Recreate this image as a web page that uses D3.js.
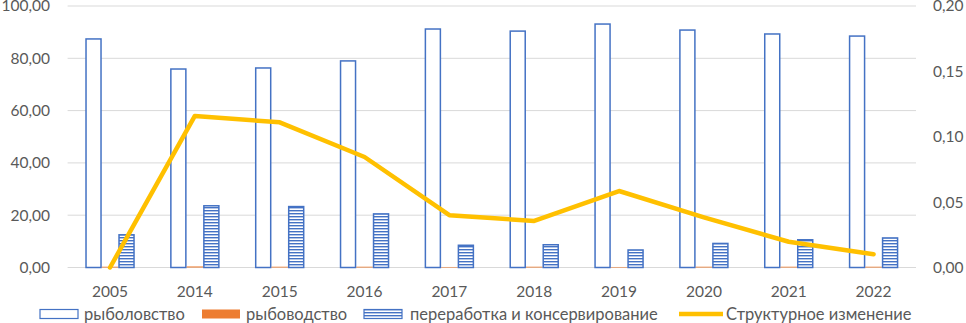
<!DOCTYPE html>
<html>
<head>
<meta charset="utf-8">
<script src="https://cdn.jsdelivr.net/npm/d3@7"></script>
<style>
  body { margin: 0; background: #fff; }
  text { font-family: Lato, "Open Sans", sans-serif; fill: #595959; }
</style>
</head>
<body>
<svg id="chart"></svg>
<script>
// data
const years = ["2005", "2014", "2015", "2016", "2017", "2018", "2019", "2020", "2021", "2022"];
const fishing = [87.4, 75.9, 76.3, 79.0, 91.2, 90.4, 93.1, 90.8, 89.3, 88.5];
const farming = [0.3, 0.4, 0.3, 0.3, 0.2, 0.3, 0.2, 0.3, 0.3, 0.3];
const processing = [12.5, 23.6, 23.3, 20.5, 8.5, 8.7, 6.7, 9.2, 10.6, 11.3];
const structural = [0.0, 0.1159, 0.111, 0.0845, 0.040, 0.0356, 0.0585, 0.0384, 0.0197, 0.0101];
const leftTicks = [0, 20, 40, 60, 80, 100];
const rightTicks = [0, 0.05, 0.10, 0.15, 0.20];
const seriesNames = ["рыболовство", "рыбоводство", "переработка и консервирование", "Структурное изменение"];

const W = 966, H = 323;
const margin = { top: 6, right: 50, bottom: 55.5, left: 67.6 };
const width = 916 - margin.left;
const height = H - margin.top - margin.bottom;

const svg = d3.select("#chart").attr("width", W).attr("height", H);

const defs = svg.append("defs");
const pat = defs.append("pattern")
    .attr("id", "hstripe")
    .attr("patternUnits", "userSpaceOnUse")
    .attr("width", 6).attr("height", 3);
pat.append("rect").attr("width", 6).attr("height", 3).attr("fill", "#fff");
pat.append("rect").attr("y", 0).attr("width", 6).attr("height", 1.4).attr("fill", "#4472C4");

const g = svg.append("g").attr("transform", `translate(${margin.left},${margin.top})`);

const x = d3.scaleBand().domain(years).range([0, width]);
const y = d3.scaleLinear().domain([0, 100]).range([height, 0]);
const y2 = d3.scaleLinear().domain([0, 0.2]).range([height, 0]);

// gridlines
g.append("g")
    .selectAll("line")
    .data(leftTicks)
    .join("line")
    .attr("x1", 0).attr("x2", width)
    .attr("y1", d => y(d)).attr("y2", d => y(d))
    .attr("stroke", "#d9d9d9").attr("stroke-width", 1);

// left axis labels
const fmt2 = d => d3.format(".2f")(d).replace(".", ",");
g.append("g")
    .selectAll("text")
    .data(leftTicks)
    .join("text")
    .attr("x", 50 - margin.left)
    .attr("y", d => y(d))
    .attr("dy", "0.35em")
    .attr("text-anchor", "end")
    .attr("font-size", 15.5)
    .text(fmt2);

// right axis labels
g.append("g")
    .selectAll("text")
    .data(rightTicks)
    .join("text")
    .attr("x", 933 - margin.left)
    .attr("y", d => y2(d))
    .attr("dy", "0.35em")
    .attr("text-anchor", "start")
    .attr("font-size", 15.5)
    .text(fmt2);

// x labels
g.append("g")
    .selectAll("text")
    .data(years)
    .join("text")
    .attr("x", d => x(d) + x.bandwidth() / 2)
    .attr("y", 292 - margin.top)
    .attr("dy", "0.35em")
    .attr("text-anchor", "middle")
    .attr("font-size", 15.5)
    .text(d => d);

// bars
const barW = 16.5;
const groupW = barW * 3;
const off = (x.bandwidth() - groupW) / 2;
const barSeries = [
  { values: fishing, fill: "#fff", stroke: "#4472C4" },
  { values: farming, fill: "#ED7D31", stroke: "none" },
  { values: processing, fill: "url(#hstripe)", stroke: "#4472C4" }
];
barSeries.forEach((s, si) => {
  g.append("g")
    .selectAll("rect")
    .data(years)
    .join("rect")
    .attr("x", d => x(d) + off + si * barW + (s.stroke === "none" ? 0 : 0.75))
    .attr("y", (d, i) => y(s.values[i]))
    .attr("width", barW - (s.stroke === "none" ? 0 : 1.5))
    .attr("height", (d, i) => height - y(s.values[i]))
    .attr("fill", s.fill)
    .attr("stroke", s.stroke)
    .attr("stroke-width", 1.5);
});

// line
const line = d3.line()
    .x((d, i) => x(years[i]) + x.bandwidth() / 2)
    .y(d => y2(d));
g.append("path")
    .datum(structural)
    .attr("fill", "none")
    .attr("stroke", "#FFC000")
    .attr("stroke-width", 4.5)
    .attr("stroke-linejoin", "round")
    .attr("stroke-linecap", "round")
    .attr("d", line);

// legend
const legY = 314;
const leg = svg.append("g");
const items = [
  { x: 40, tx: 84, type: "rect", fill: "#fff", stroke: "#4472C4" },
  { x: 202, tx: 246, type: "rect", fill: "#ED7D31", stroke: "none" },
  { x: 364, tx: 410, type: "rect", fill: "url(#hstripe)", stroke: "#4472C4" },
  { x: 679, tx: 726, type: "line" }
];
items.forEach((it, i) => {
  if (it.type === "rect") {
    leg.append("rect")
      .attr("x", it.x).attr("y", legY - 4.5)
      .attr("width", 38).attr("height", 9)
      .attr("fill", it.fill).attr("stroke", it.stroke).attr("stroke-width", 1.2);
  } else {
    leg.append("line")
      .attr("x1", it.x).attr("x2", it.x + 44)
      .attr("y1", legY).attr("y2", legY)
      .attr("stroke", "#FFC000").attr("stroke-width", 4.5);
  }
  leg.append("text")
    .attr("x", it.tx).attr("y", legY)
    .attr("dy", "0.35em")
    .attr("font-size", 16.5)
    .text(seriesNames[i]);
});
</script>
</body>
</html>
